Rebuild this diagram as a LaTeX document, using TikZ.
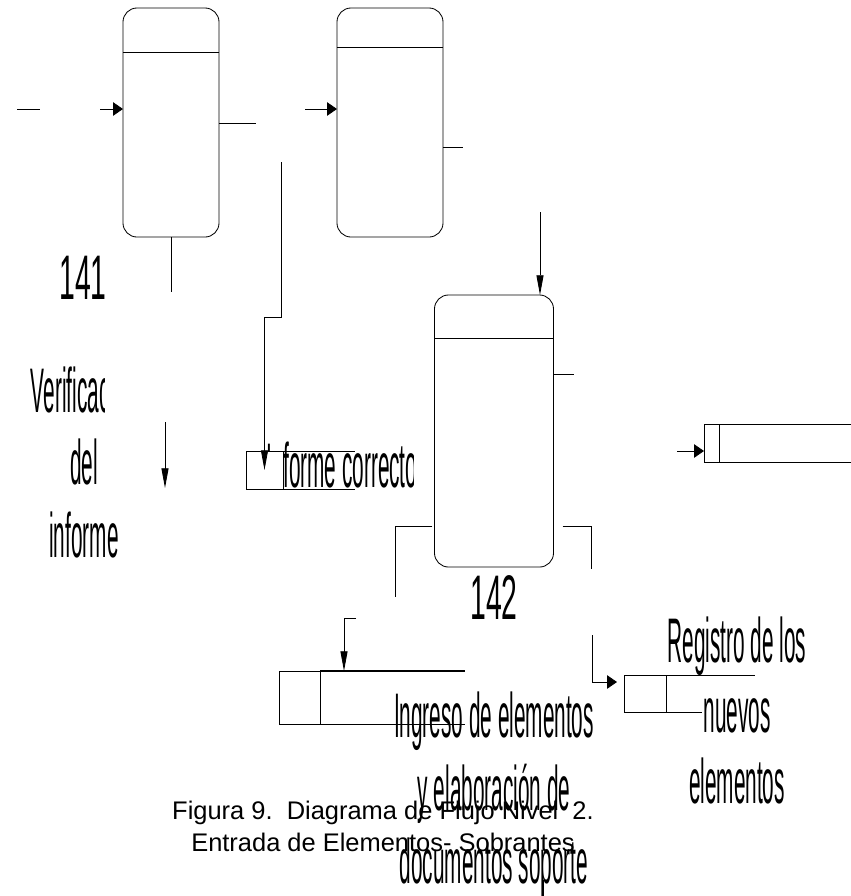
\documentclass[tikz,border=0pt]{standalone}
\usepackage{fontspec}
\setmainfont{Liberation Sans}
\newfontfamily\narrowfont[FakeStretch=0.33]{Liberation Sans}
\newfontfamily\digitfont[FakeStretch=0.45]{Liberation Sans}
\usetikzlibrary{positioning,arrows.meta}

\begin{document}
\begin{tikzpicture}[x=0.025cm,y=-0.025cm,
    every node/.style={inner sep=0pt,outer sep=0pt},
    flow/.style={line width=0.6pt},
    procbox/.style={draw,rounded corners=10pt,line width=0.6pt},
    storebox/.style={draw,line width=0.6pt},
    harrow/.style={flow,-{Triangle[length=7pt,width=9.5pt]}},
    varrow/.style={flow,-{Triangle[length=14pt,width=5pt]}},
    narrow/.style={font=\narrowfont\fontsize{44.8}{51.5}\selectfont},
    digits/.style={font=\digitfont\fontsize{44.8}{51.5}\selectfont}]
  \useasboundingbox (0,0) rectangle (850,896);

  % ---------------- process boxes ----------------
  \node[procbox,minimum width=2.4cm,minimum height=5.725cm] (p141) at (171,122.5) {};
  \node[procbox,minimum width=2.65cm,minimum height=5.725cm] (p14x) at (390,122.5) {};
  \node[procbox,minimum width=2.975cm,minimum height=6.8cm] (p142) at (494,431) {};
  \draw[flow] ([yshift=-1.1cm]p141.north west) -- ([yshift=-1.1cm]p141.north east);
  \draw[flow] ([yshift=-0.975cm]p14x.north west) -- ([yshift=-0.975cm]p14x.north east);
  \draw[flow] ([yshift=-1.075cm]p142.north west) -- ([yshift=-1.075cm]p142.north east);
  \node[digits] (n141) at (83,278) {141};
  \node[digits] (n142) at (494,597) {142};

  % ---------------- data stores ----------------
  \node[storebox,minimum width=0.925cm,minimum height=0.95cm] (s1) at (264.5,470) {};
  \draw[flow] (s1.north east) -- ++(72,0);
  \draw[flow] (s1.south east) -- ++(72,0);
  \node[storebox,minimum width=0.375cm,minimum height=0.95cm] (sR) at (711.5,443) {};
  \draw[flow] (sR.north east) -- ++(140,0);
  \draw[flow] (sR.south east) -- ++(140,0);
  \node[storebox,minimum width=1.05cm,minimum height=0.925cm] (sB) at (645,693.5) {};
  \draw[flow] (sB.north east) -- ++(89,0);
  \draw[flow] (sB.south east) -- ++(36,0);
  \node[storebox,minimum width=1.025cm,minimum height=1.325cm] (sL) at (299.5,697.5) {};
  \draw[line width=1.1pt] (sL.north east) -- ++(145,0);
  \draw[flow] (sL.south east) -- ++(145,0);

  % ---------------- flows ----------------
  \coordinate (l1a) at (17,109);
  \coordinate (l1b) at (40,109);
  \draw[flow] (l1a) -- (l1b);
  \coordinate (in141) at (100,109);
  \draw[harrow] (in141) -- (in141 -| p141.west);
  \coordinate (o141) at (256,123);
  \draw[flow] (o141 -| p141.east) -- (o141);
  \coordinate (d141) at (171,292);
  \draw[flow] (p141.south) -- (d141);
  \coordinate (f141) at (281,162);
  \draw[varrow] (f141) -- ++(0,155) -| (s1.center);
  \coordinate (in14x) at (305,109);
  \draw[harrow] (in14x) -- (in14x -| p14x.west);
  \coordinate (o14x) at (463,147);
  \draw[flow] (o14x -| p14x.east) -- (o14x);
  \coordinate (in142) at (540,212);
  \draw[varrow] (in142) -- (in142 |- p142.north);
  \coordinate (o142) at (574,374);
  \draw[flow] (o142 -| p142.east) -- (o142);
  \coordinate (a1) at (165,422);
  \coordinate (a2) at (165,488);
  \draw[varrow] (a1) -- (a2);
  \coordinate (inR) at (677,451);
  \draw[harrow] (inR) -- (inR -| sR.west);
  \coordinate (bl) at (395,597);
  \draw[flow] ([xshift=-0.05cm,yshift=1.025cm]p142.south west) -| (bl);
  \coordinate (br) at (591,569);
  \draw[flow] ([xshift=0.225cm,yshift=1.025cm]p142.south east) -| (br);
  \coordinate (br2) at (592,635);
  \coordinate (tipB) at (617,682);
  \draw[harrow] (br2) |- (tipB);
  \coordinate (sl) at (356,618);
  \coordinate (tipL) at (344,671);
  \draw[varrow] (sl) -| (tipL);
  \coordinate (e1) at (543,880);
  \coordinate (e2) at (543,896);
  \draw[flow] (e1) -- (e2);

  % ---------------- labels ----------------
  \begin{scope}
    \clip (0,330) rectangle (104,430);
    \node[narrow,anchor=base] (t1) at (84,412) {Verificación};
  \end{scope}
  \node[narrow,anchor=base] (t2) at (84,484.5) {del};
  \node[narrow,anchor=base] (t3) at (84,557) {informe};
  \begin{scope}
    \clip (262,420) rectangle (413,451) (283,451) rectangle (413,500);
    \node[narrow,anchor=base west] (t4) at (266,487) {Informe correcto};
  \end{scope}
  \foreach \t/\yy [count=\i] in {Registro de los/662, nuevos/732.5, elementos/803}
    \node[narrow,anchor=base] (reg\i) at (737,\yy) {\t};
  \foreach \t/\yy [count=\i] in {Ingreso de elementos/737, y elaboración de/810, documentos soporte/883}
    \node[narrow,anchor=base] (ing\i) at (494,\yy) {\t};

  % ---------------- caption ----------------
  \node[font=\fontsize{18.1}{21}\selectfont,anchor=base] (cap1) at (383,819)
    {Figura 9.~~Diagrama de Flujo Nivel~~2.};
  \node[font=\fontsize{18.1}{21}\selectfont,anchor=base] (cap2) at (383,851)
    {Entrada de Elementos- Sobrantes};
\end{tikzpicture}
\end{document}
